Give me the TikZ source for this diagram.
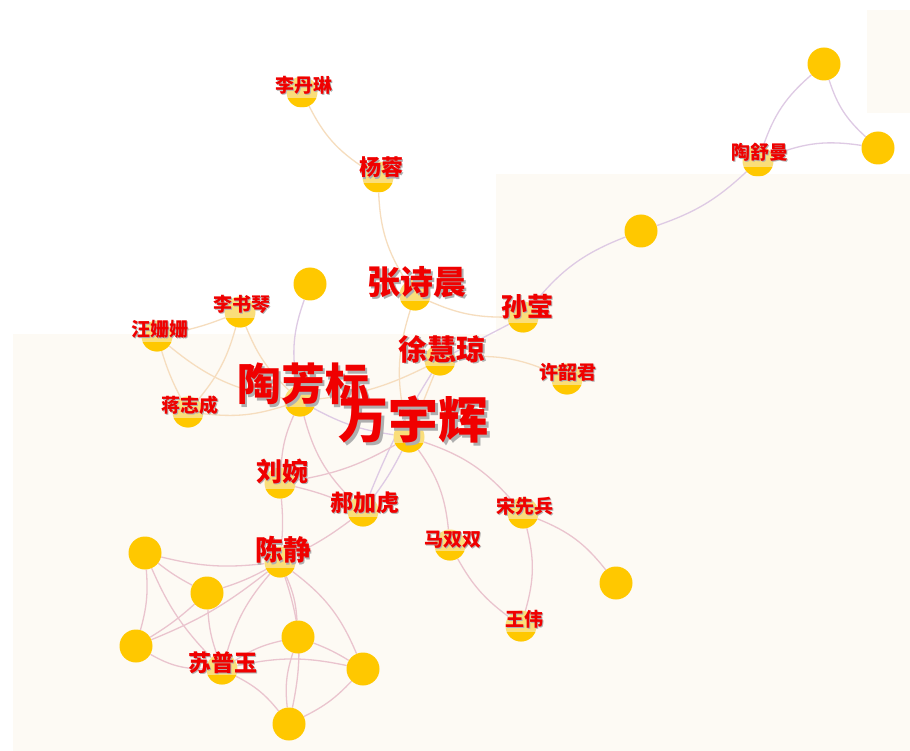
\documentclass[tikz,border=0pt]{standalone}
\usepackage{fontspec}
\newfontfamily\cjk{Noto Sans CJK SC}
\usepackage{tikz}

\definecolor{gold}{RGB}{255,200,0}
\definecolor{palegold}{RGB}{250,222,122}
\definecolor{edgeorange}{RGB}{246,221,190}
\definecolor{edgepurple}{RGB}{222,202,228}
\definecolor{edgered}{RGB}{234,196,206}
\definecolor{bgcream}{RGB}{253,250,244}
\definecolor{namered}{RGB}{240,0,0}
\definecolor{shadegray}{RGB}{175,175,175}

% name with a soft shadow behind it
\newcommand{\shadedname}[1]{\makebox[0pt][l]{\hspace{0.06em}\raisebox{-0.06em}{\color{shadegray}#1}}#1}

\pgfdeclarelayer{back}
\pgfdeclarelayer{edges}
\pgfsetlayers{back,edges,main}

\begin{document}
\begin{tikzpicture}[x=1pt,y=-1pt,
        dot/.style={circle,fill=gold,minimum size=33pt,inner sep=0pt},
        person/.style={circle,fill=palegold,minimum size=31pt,inner sep=0pt,
            path picture={\fill[gold] ([yshift=-6pt]path picture bounding box.west) rectangle (path picture bounding box.south east);}},
        tie/.style={line width=1.3pt},
        nametext/.style={text=namered,inner sep=0pt}]

        \useasboundingbox (0,0) rectangle (910,751);

        % Pale panels behind the graph
        \begin{pgfonlayer}{back}
            \fill[white] (0,0) rectangle (910,751);
            \fill[bgcream] (13,334) rectangle (496,751);
            \fill[bgcream] (496,174) rectangle (910,751);
            \fill[bgcream] (867,10) rectangle (910,113);
        \end{pgfonlayer}

        % Named people
        \foreach \id/\px/\py in {ldl/302/92, yr/378/177, zsc/415/295, sy/523/317,
                tsm/758/161, lsq/240/312, wss/157/336, jzc/188/412, tfb/300/401,
                xhq/440/360, xsj/567/379, wyh/409/437, lw/280/483, hjh/363/511,
                ssb/523/513, mss/450/545, ww/521/626, cj/280/562, spy/222/669} {
            \node[person] (\id) at (\px,\py) {};
        }

        % People without a name
        \foreach \id/\px/\py in {u1/310/284, u2/641/231, u3/824/64, u4/878/148,
                u5/616/583, u6/145/553, u7/207/593, u8/136/646, u9/298/637,
                u10/363/669, u11/289/724} {
            \node[dot] (\id) at (\px,\py) {};
        }

        \begin{pgfonlayer}{edges}
            % Orange links
            \foreach \a/\b/\bend in {ldl/yr/-15, yr/zsc/-15, zsc/sy/-12, zsc/wyh/-15,
                    xhq/xsj/15, xhq/tfb/10, lsq/wss/5, lsq/jzc/12, wss/jzc/-5,
                    lsq/tfb/-12, wss/tfb/-15, jzc/tfb/-12, xhq/wyh/0} {
                \draw[tie,edgeorange] (\a) to[bend left=\bend] (\b);
            }
            % Purple links
            \foreach \a/\b/\bend in {sy/u2/15, u2/tsm/-12, tsm/u3/15, u3/u4/-15,
                    tsm/u4/15, sy/xhq/0, tfb/u1/15, tfb/wyh/-10, wyh/hjh/5,
                    xhq/hjh/-5} {
                \draw[tie,edgepurple] (\a) to[bend left=\bend] (\b);
            }
            % Red links
            \foreach \a/\b/\bend in {tfb/lw/-10, tfb/hjh/-15, lw/wyh/-10, lw/hjh/5,
                    lw/cj/5, hjh/cj/5, wyh/ssb/15, wyh/mss/15, ssb/ww/15, ssb/u5/15,
                    mss/ww/-12, u6/cj/-10, u6/u7/-5, u6/u8/10, u6/spy/-10, u7/cj/-5,
                    u7/u8/5, u7/spy/-8, u8/cj/-8, u8/spy/-15, spy/cj/12, cj/u9/10,
                    cj/u10/15, spy/u9/10, spy/u10/12, u9/u10/5, u9/u11/-12,
                    cj/u11/15, spy/u11/12, u10/u11/10} {
                \draw[tie,edgered] (\a) to[bend left=\bend] (\b);
            }
        \end{pgfonlayer}

        % Names
        \foreach \id/\t/\fs/\dx/\dy in {ldl/李丹琳/19/2/-6, yr/杨蓉/22/3/-9,
                zsc/张诗晨/33/2/-12, sy/孙莹/26/4/-10, tsm/陶舒曼/19/2/-8,
                lsq/李书琴/19/2/-7, wss/汪姗姗/19/3/-6, jzc/蒋志成/19/2/-6,
                tfb/陶芳标/44/3/-16, xhq/徐慧琼/29/2/-10, xsj/许韶君/19/1/-6,
                wyh/万宇辉/50/4/-16, lw/刘婉/26/2/-11, hjh/郝加虎/23/2/-8,
                ssb/宋先兵/19/2/-6, mss/马双双/19/3/-5, ww/王伟/19/3/-6,
                cj/陈静/28/3/-11, spy/苏普玉/23/1/-6} {
            \node[nametext,font={\cjk\bfseries\fontsize{\fs}{\fs}\selectfont}] (\id-t) at ([shift={(\dx,\dy)}]\id) {\shadedname{\t}};
        }
    \end{tikzpicture}
\end{document}
